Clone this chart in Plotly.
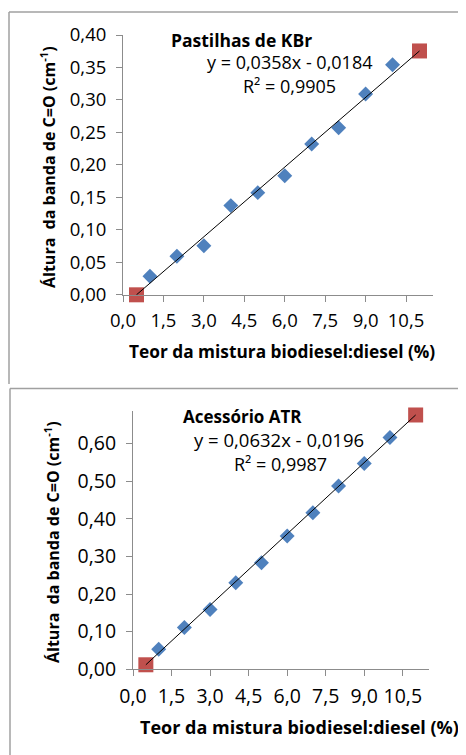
import plotly.graph_objects as go

# ---- data ----
teor = [1, 2, 3, 4, 5, 6, 7, 8, 9, 10]
kbr_altura = [0.028, 0.059, 0.075, 0.137, 0.157, 0.183, 0.232, 0.257, 0.309, 0.354]
atr_altura = [0.053, 0.111, 0.159, 0.230, 0.283, 0.354, 0.416, 0.487, 0.547, 0.616]
trend_x = [0.5, 11.0]
kbr_slope, kbr_intercept = 0.0358, -0.0184
atr_slope, atr_intercept = 0.0632, -0.0196
kbr_title = "Pastilhas de KBr"
atr_title = "Acessório ATR"
kbr_eq = "y = 0,0358x - 0,0184"
atr_eq = "y = 0,0632x - 0,0196"
kbr_r2 = "R² = 0,9905"
atr_r2 = "R² = 0,9987"
x_title = "Teor da mistura biodiesel:diesel (%)"
y_title = "Áltura\u00a0 da banda de C=O (cm<sup>-1</sup>)"

# page body has an 8px margin: figure origin sits at (8, 8) in the window
OFF = 8
W, H = 466 - OFF, 755 - OFF
FONT = "Open Sans"
BLUE = "#4F81BD"
RED = "#C0504D"
AXC = "#8C8C8C"

kbr_trend = [kbr_slope * x + kbr_intercept for x in trend_x]
atr_trend = [atr_slope * x + atr_intercept for x in trend_x]

fig = go.Figure()

def add_panel(xa, ya, yvals, tr):
    fig.add_trace(go.Scatter(x=teor, y=yvals, mode="markers", xaxis=xa, yaxis=ya,
                             marker=dict(symbol="diamond", size=11.5, color=BLUE),
                             showlegend=False, cliponaxis=False))
    fig.add_trace(go.Scatter(x=trend_x, y=tr, mode="markers", xaxis=xa, yaxis=ya,
                             marker=dict(symbol="square", size=15, color=RED),
                             showlegend=False, cliponaxis=False))
    fig.add_trace(go.Scatter(x=trend_x, y=tr, mode="lines", xaxis=xa, yaxis=ya,
                             line=dict(color="black", width=1),
                             showlegend=False, cliponaxis=False))

add_panel("x", "y", kbr_altura, kbr_trend)
add_panel("x2", "y2", atr_altura, atr_trend)

def px(x): return (x - OFF) / W
def py(y): return 1 - (y - OFF) / H

def axis_common(size):
    return dict(showgrid=False, zeroline=False, showline=True, linecolor=AXC, linewidth=1,
                ticks="outside", ticklen=6, tickcolor=AXC, tickwidth=1, automargin=False,
                tickfont=dict(family=FONT, size=size, color="black"))

fig.update_layout(
    width=W, height=H, margin=dict(l=0, r=0, t=0, b=0, pad=0), autosize=False,
    paper_bgcolor="white", plot_bgcolor="white", separators=",.",
    xaxis=dict(domain=[px(123), px(433)], range=[0, 11.5], dtick=1.5, tick0=0,
               tickformat=".1f", anchor="y", ticklabelstandoff=3, **axis_common(18.5)),
    yaxis=dict(domain=[py(295), py(35)], range=[-0.0008, 0.40], dtick=0.05, tick0=0,
               tickformat=".2f", anchor="x", ticklabelstandoff=6, **axis_common(18.5)),
    xaxis2=dict(domain=[px(133), px(428.5)], range=[0, 11.5], dtick=1.5, tick0=0,
                tickformat=".1f", anchor="y2", ticklabelstandoff=3, **axis_common(19.5)),
    yaxis2=dict(domain=[py(669.3), py(410.7)], range=[0, 0.687], dtick=0.1, tick0=0,
                tickformat=".2f", anchor="x2", ticklabelstandoff=6, **axis_common(19.5)),
)

def ann(text, x, y, size=16, bold=False, angle=0):
    t = f"<b>{text}</b>" if bold else text
    fig.add_annotation(text=t, x=px(x), y=py(y), xref="paper", yref="paper",
                       showarrow=False, xanchor="center", yanchor="middle", textangle=angle,
                       font=dict(family=FONT, size=size, color="black"))

ann(kbr_title, 241.5, 40, 17.5, True)
ann(kbr_eq, 289, 62, 18)
ann(kbr_r2, 289, 86, 18)
ann(atr_title, 242, 416, 17, True)
ann(atr_eq, 279, 439.5, 18.5)
ann(atr_r2, 280, 463.5, 18)
ann(x_title, 282, 352, 17.3, True)
ann(x_title, 299, 727, 18, True)
ann(y_title, 48, 167, 16, True, -90)
ann(y_title, 52, 542, 16, True, -90)

# outer chart borders
line = dict(color="#A0A0A0", width=1.5)
fig.add_shape(type="line", xref="paper", yref="paper", x0=px(9), x1=1, y0=py(12), y1=py(12), line=line)
fig.add_shape(type="line", xref="paper", yref="paper", x0=px(9), x1=px(9), y0=py(12), y1=py(384), line=line)
fig.add_shape(type="line", xref="paper", yref="paper", x0=px(10), x1=1, y0=py(388.5), y1=py(388.5), line=line)
fig.add_shape(type="line", xref="paper", yref="paper", x0=px(10), x1=px(10), y0=py(388.5), y1=0, line=line)

fig.write_html("out.html")
